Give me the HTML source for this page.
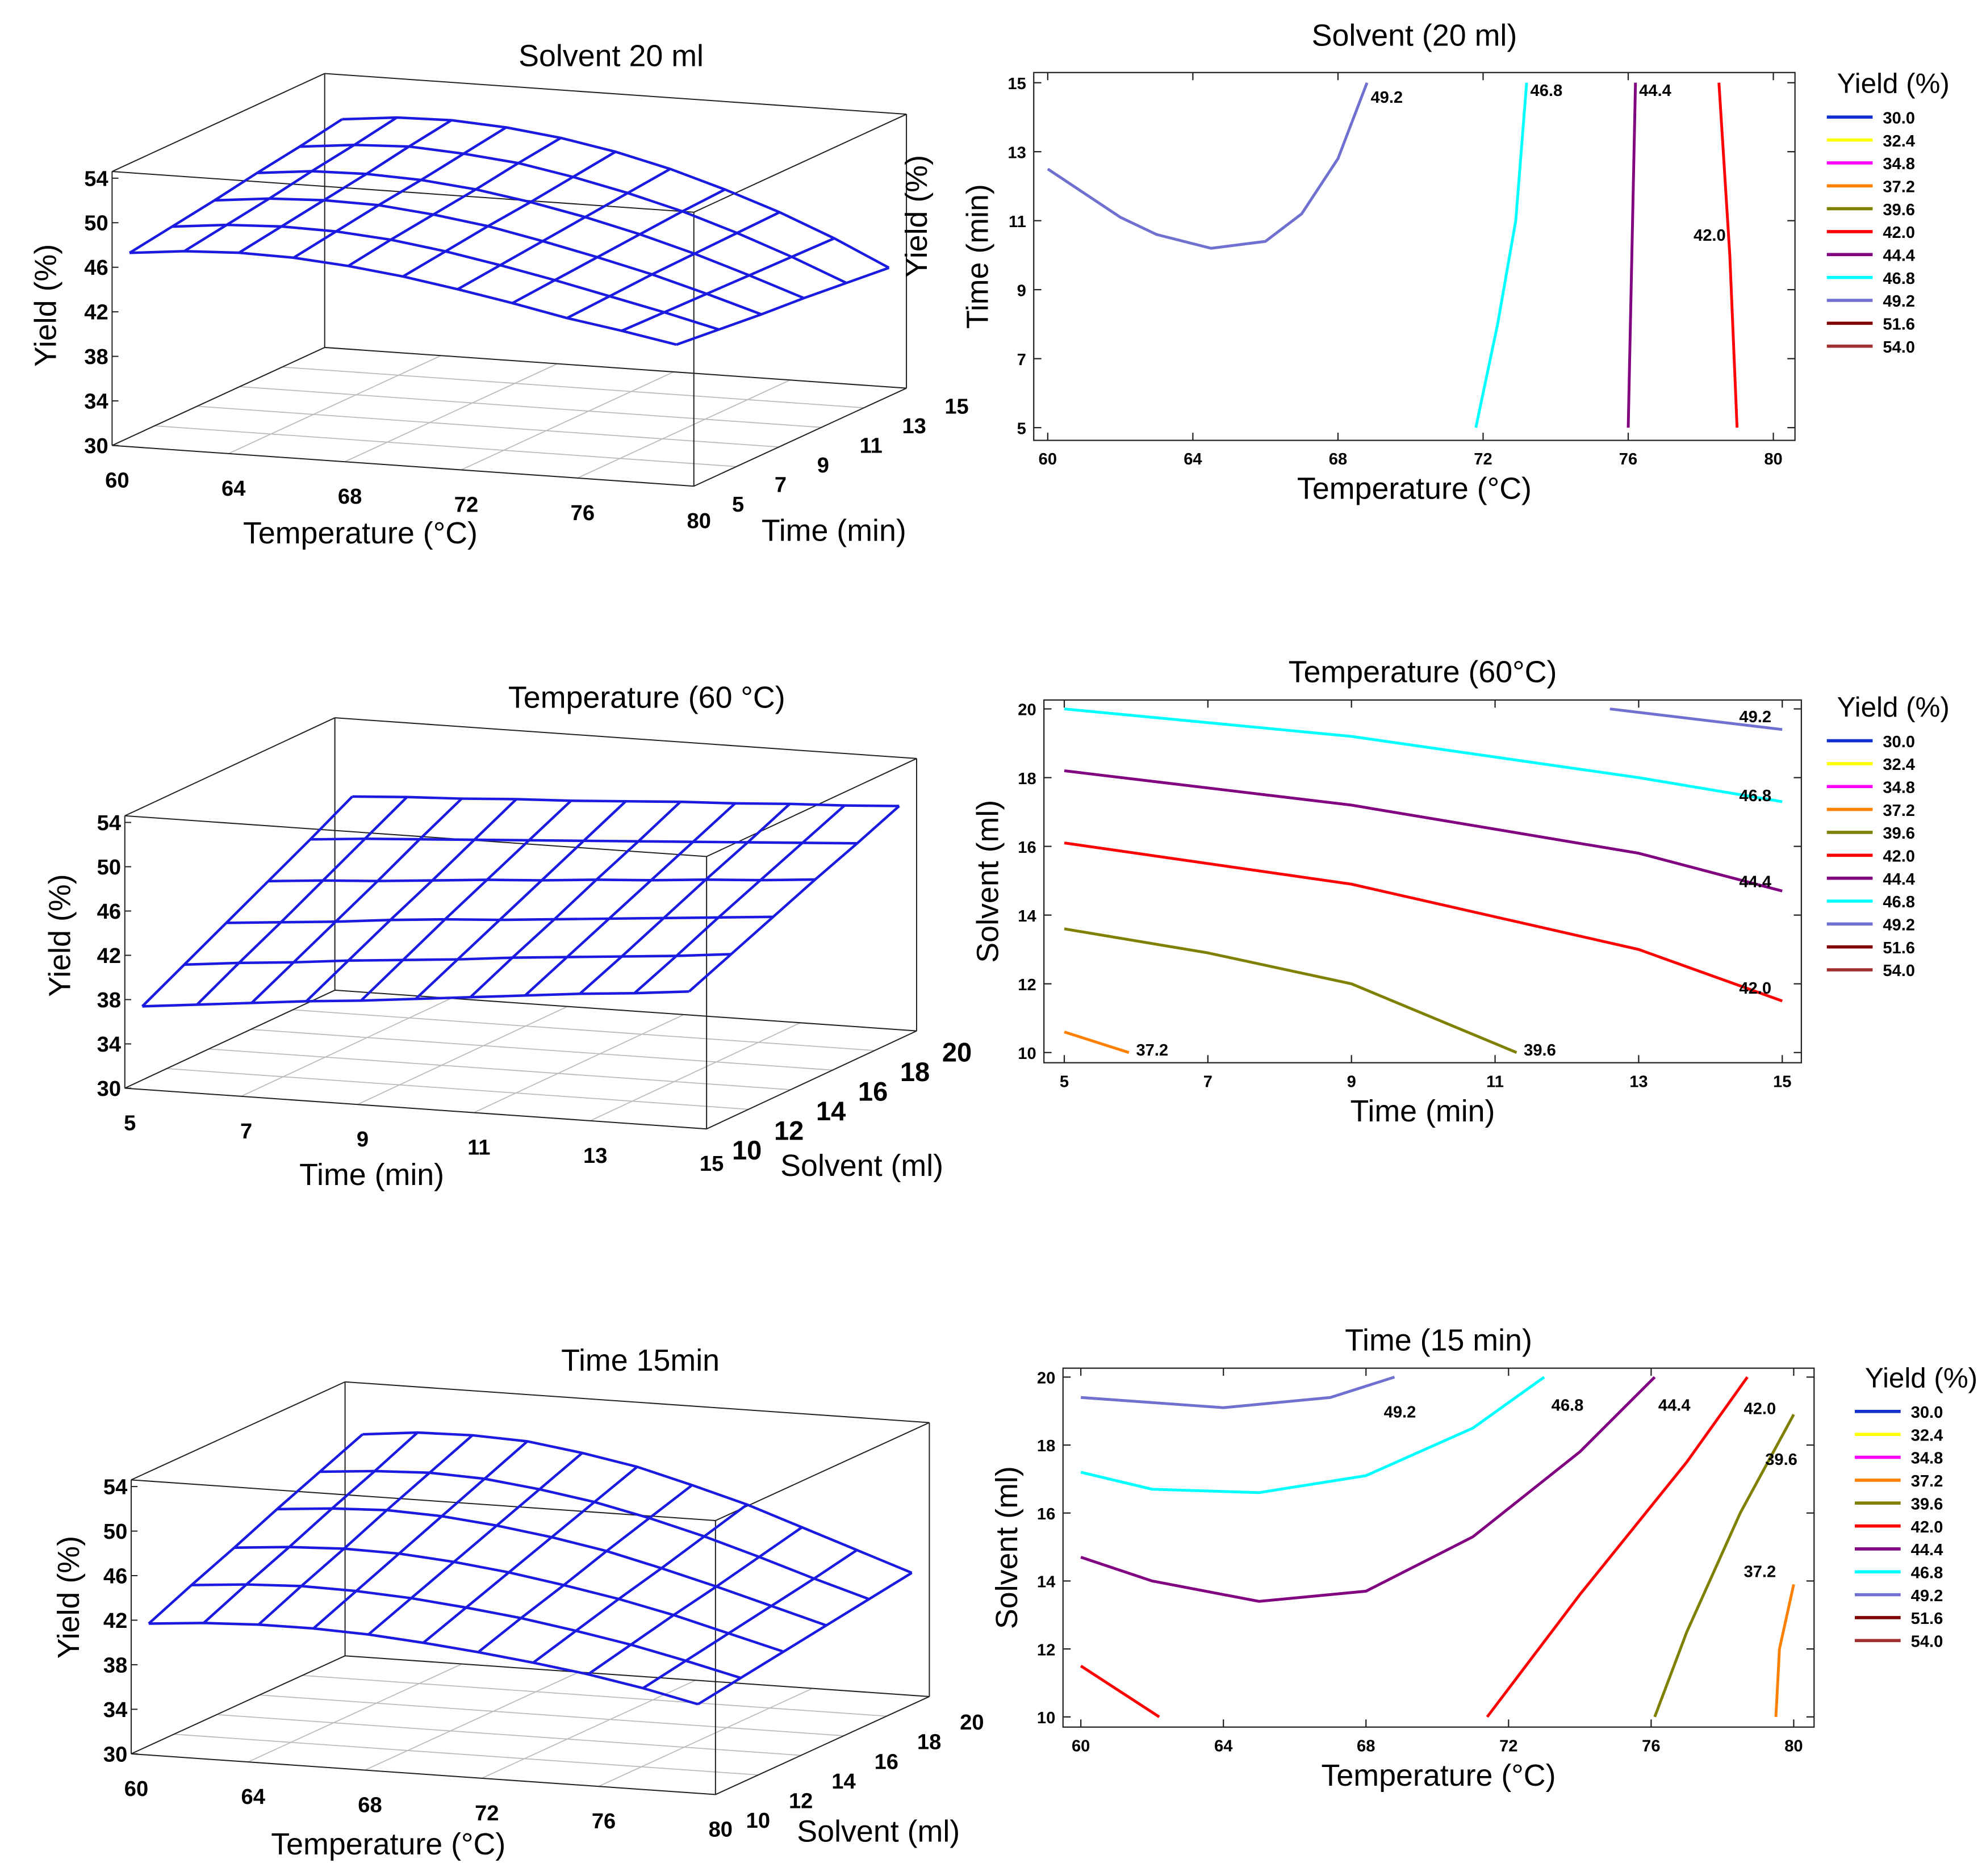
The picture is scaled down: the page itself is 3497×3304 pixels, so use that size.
<!DOCTYPE html>
<html><head><meta charset="utf-8"><style>
html,body{margin:0;padding:0;background:#fff}
svg{display:block;font-family:"Liberation Sans",Arial,sans-serif}
</style></head><body>
<svg id="root" width="3497" height="3304" viewBox="0 0 1560 1474" xmlns="http://www.w3.org/2000/svg"></svg>
<script>
// ---------- data ----------
const levels = [30.0,32.4,34.8,37.2,39.6,42.0,44.4,46.8,49.2,51.6,54.0];
const levelColors = ['#1030d0','#ffff00','#ff00ff','#ff8000','#808000','#ff0000','#800080','#00ffff','#7070d0','#800000','#a03030'];
const yieldTicks = [30,34,38,42,46,50,54];

const s1Temp = [60,62,64,66,68,70,72,74,76,78,80];
const s1Time = [5,7,9,11,13,15];
const s1Yield = [
 [47.4,47.9,48.1,48.0,47.6,47.0,46.2,45.3,44.3,43.5,42.6],
 [48.0,48.5,48.7,48.6,48.2,47.5,46.6,45.6,44.5,43.4,42.2],
 [48.6,49.1,49.3,49.2,48.7,48.0,47.0,45.9,44.7,43.3,41.8],
 [49.3,49.8,49.9,49.7,49.2,48.4,47.4,46.2,44.8,43.2,41.5],
 [49.9,50.4,50.6,50.3,49.8,48.9,47.8,46.5,44.9,43.1,41.1],
 [50.6,51.1,51.2,50.9,50.3,49.4,48.2,46.7,45.0,43.0,40.7]];
const s2Time = [5,6,7,8,9,10,11,12,13,14,15];
const s2Solv = [10,12,14,16,18,20];
const s2Yield = [
 [37.5,38.0,38.5,39.0,39.4,39.9,40.4,40.9,41.4,41.8,42.3],
 [39.5,40.0,40.4,40.9,41.3,41.7,42.2,42.6,43.0,43.4,43.9],
 [41.5,41.9,42.3,42.8,43.2,43.5,43.9,44.3,44.7,45.1,45.5],
 [43.5,43.9,44.2,44.6,45.0,45.3,45.7,46.0,46.4,46.7,47.1],
 [45.5,45.9,46.2,46.5,46.8,47.1,47.4,47.7,48.0,48.3,48.6],
 [47.6,47.9,48.1,48.4,48.6,48.9,49.2,49.4,49.7,49.9,50.2]];
const s3Temp = [60,62,64,66,68,70,72,74,76,78,80];
const s3Solv = [10,12,14,16,18,20];
const s3Yield = [
 [41.8,42.2,42.4,42.4,42.2,41.8,41.3,40.7,40.0,39.1,38.0],
 [43.5,43.9,44.1,44.0,43.7,43.2,42.6,41.8,40.9,39.8,38.6],
 [45.1,45.5,45.7,45.6,45.2,44.6,43.8,42.9,41.8,40.5,39.2],
 [46.8,47.2,47.4,47.2,46.7,46.0,45.1,43.9,42.6,41.2,39.8],
 [48.4,48.8,49.0,48.8,48.2,47.4,46.3,45.0,43.5,41.9,40.4],
 [50.0,50.5,50.6,50.4,49.7,48.8,47.5,46.1,44.4,42.7,41.0]];

const cA = [
 {lev:49.2, x:[60,61,62,63,64.5,66,67,68,68.8], y:[12.5,11.8,11.1,10.6,10.2,10.4,11.2,12.8,15], lab:[68.9,14.6]},
 {lev:46.8, x:[71.8,72.4,72.9,73.2], y:[5,8,11,15], lab:[73.3,14.8]},
 {lev:44.4, x:[76,76.1,76.2], y:[5,10,15], lab:[76.3,14.8]},
 {lev:42.0, x:[79,78.8,78.5], y:[5,10,15], lab:[77.8,10.6]}];
const cB = [
 {lev:49.2, x:[12.6,15], y:[20,19.4], lab:[14.4,19.8]},
 {lev:46.8, x:[5,9,13,15], y:[20,19.2,18,17.3], lab:[14.4,17.5]},
 {lev:44.4, x:[5,9,13,15], y:[18.2,17.2,15.8,14.7], lab:[14.4,15.0]},
 {lev:42.0, x:[5,9,13,15], y:[16.1,14.9,13.0,11.5], lab:[14.4,11.9]},
 {lev:39.6, x:[5,7,9,11.3], y:[13.6,12.9,12.0,10], lab:[11.4,10.1]},
 {lev:37.2, x:[5,5.9], y:[10.6,10], lab:[6.0,10.1]}];
const cC = [
 {lev:49.2, x:[60,64,67,68.8], y:[19.4,19.1,19.4,20], lab:[68.5,19.0]},
 {lev:46.8, x:[60,62,65,68,71,73], y:[17.2,16.7,16.6,17.1,18.5,20], lab:[73.2,19.2]},
 {lev:44.4, x:[60,62,65,68,71,74,76.1], y:[14.7,14.0,13.4,13.7,15.3,17.8,20], lab:[76.2,19.2]},
 {lev:42.0, x:[71.4,74,77,78.7], y:[10,13.6,17.5,20], lab:[78.6,19.1]},
 {lev:42.0, x:[60,62.2], y:[11.5,10], lab:null},
 {lev:39.6, x:[76.1,77,78.5,80], y:[10,12.5,16,18.9], lab:[79.2,17.6]},
 {lev:37.2, x:[79.5,79.6,80], y:[10,12,13.9], lab:[78.6,14.3]}];

// ---------- helpers ----------
const NS='http://www.w3.org/2000/svg';
const root=document.getElementById('root');
function mk(tag,attrs,parent,text){const e=document.createElementNS(NS,tag);for(const k in attrs)e.setAttribute(k,attrs[k]);if(text!==undefined)e.textContent=text;(parent||root).appendChild(e);return e;}
function txt(x,y,s,size,parent,extra){return mk('text',Object.assign({x:x,y:y,'font-size':size,'text-anchor':'middle',fill:'#000'},extra||{}),parent,s);}

function surface(cfg){
  const g=mk('g',{});
  
  
  const [ox,oy]=cfg.O, ys=cfg.ys;
  function P(u,v,y){return [ox+u*cfg.vF[0]+v*cfg.vD[0], oy+u*cfg.vF[1]+v*cfg.vD[1]-(y-30)*ys];}
  const ymax=54.6;
  const edges=[[0,0,30,1,0,30],[1,0,30,1,1,30],[1,1,30,0,1,30],[0,1,30,0,0,30],
    [0,0,ymax,1,0,ymax],[1,0,ymax,1,1,ymax],[1,1,ymax,0,1,ymax],[0,1,ymax,0,0,ymax],
    [0,0,30,0,0,ymax],[1,0,30,1,0,ymax],[1,1,30,1,1,ymax],[0,1,30,0,1,ymax]];
  for(let i=0;i<=5;i++){
    const a=P(i/5,0,30),b=P(i/5,1,30);
    const l=mk('line',{x1:a[0],y1:a[1],x2:b[0],y2:b[1],stroke:'#bbb','stroke-width':0.8},g);
    
    
    const a2=P(0,i/5,30),b2=P(1,i/5,30);
    const l2=mk('line',{x1:a2[0],y1:a2[1],x2:b2[0],y2:b2[1],stroke:'#bbb','stroke-width':0.8},g);
    
    
  }
  edges.forEach(e=>{const a=P(e[0],e[1],e[2]),b=P(e[3],e[4],e[5]);
    const l=mk('line',{x1:a[0],y1:a[1],x2:b[0],y2:b[1],stroke:'#222','stroke-width':0.9},g);
    
    });
  yieldTicks.forEach(t=>{const p=P(0,0,t);
    mk('line',{x1:p[0],y1:p[1],x2:p[0]+5,y2:p[1],stroke:'#222','stroke-width':0.9},g);
    const tl=txt(p[0]-3,p[1]+6,String(t),17,g,{'text-anchor':'end','font-weight':'bold'});
    
    });
  cfg.fTicks.forEach(t=>{const u=(t-cfg.fRange[0])/(cfg.fRange[1]-cfg.fRange[0]);const p=P(u,0,30);
    const tl=txt(p[0]+4,p[1]+33,String(t),17,g,{'font-weight':'bold'});
    
    });
  cfg.dTicks.forEach(t=>{const v=(t-cfg.dRange[0])/(cfg.dRange[1]-cfg.dRange[0]);const p=P(1,v,30);
    const tl=txt(p[0]+cfg.dOff[0],p[1]+cfg.dOff[1],String(t),cfg.dSize||17,g,{'font-weight':'bold','text-anchor':'start'});
    
    });
  const cols=cfg.cols, rows=cfg.rows, Z=cfg.Z;
  const mesh=mk('g',{fill:'none',stroke:'#1a1ae0','stroke-width':2},g);
  
  
  const U=x=>cfg.inset+(1-2*cfg.inset)*(x-cfg.fRange[0])/(cfg.fRange[1]-cfg.fRange[0]);
  const V=x=>(x-cfg.dRange[0])/(cfg.dRange[1]-cfg.dRange[0]);
  for(let r=0;r<rows.length;r++){
    const pts=cols.map((cv,j)=>P(U(cv),V(rows[r]),Z[r][j]).join(',')).join(' ');
    const pl=mk('polyline',{points:pts},mesh);
    
    
  }
  for(let j=0;j<cols.length;j++){
    const pts=rows.map((rv,r)=>P(U(cols[j]),V(rv),Z[r][j]).join(',')).join(' ');
    const pl=mk('polyline',{points:pts},mesh);
    
    
  }
}

surface({name:'surface-plot-solvent-20',O:[88,350],vF:[457,32],vD:[167,-77],ys:8.75,inset:0.03,
  fRange:[60,80],dRange:[5,15],fTicks:[60,64,68,72,76,80],dTicks:[5,7,9,11,13,15],dOff:[30,20],
  cols:s1Temp,rows:s1Time,Z:s1Yield});
surface({name:'surface-plot-temperature-60',O:[98,855],vF:[457,32],vD:[165,-77],ys:8.7,inset:0.03,
  fRange:[5,15],dRange:[10,20],fTicks:[5,7,9,11,13,15],dTicks:[10,12,14,16,18,20],dOff:[20,24],dSize:21,
  cols:s2Time,rows:s2Solv,Z:s2Yield});
surface({name:'surface-plot-time-15',O:[103,1378],vF:[459,32],vD:[168,-77],ys:8.75,inset:0.03,
  fRange:[60,80],dRange:[10,20],fTicks:[60,64,68,72,76,80],dTicks:[10,12,14,16,18,20],dOff:[24,26],
  cols:s3Temp,rows:s3Solv,Z:s3Yield});

[[480,52,'Solvent 20 ml','title'],[508,556,'Temperature (60 °C)','title'],[503,1077,'Time 15min','title'],
 [283,427,'Temperature (°C)','x-axis-title'],[655,425,'Time (min)','depth-axis-title'],
 [292,931,'Time (min)','x-axis-title'],[677,924,'Solvent (ml)','depth-axis-title'],
 [305,1457,'Temperature (°C)','x-axis-title'],[690,1447,'Solvent (ml)','depth-axis-title']].forEach(a=>{
  const e=txt(a[0],a[1],a[2],24);
  
  });
[[44,240],[55,735],[62,1255],[728,170]].forEach(a=>{
  const e=txt(0,0,'Yield (%)',24,root,{transform:`translate(${a[0]},${a[1]}) rotate(-90)`});
  
  });

function contour(cfg){
  const g=mk('g',{});
  
  
  const [x0,y0,x1,y1]=cfg.frame;
  const fr=mk('rect',{x:x0,y:y0,width:x1-x0,height:y1-y0,fill:'#fff',stroke:'#222','stroke-width':1},g);
  
  
  const X=v=>cfg.px[0]+(v-cfg.xr[0])/(cfg.xr[1]-cfg.xr[0])*(cfg.px[1]-cfg.px[0]);
  const Y=v=>cfg.py[0]+(v-cfg.yr[0])/(cfg.yr[1]-cfg.yr[0])*(cfg.py[1]-cfg.py[0]);
  cfg.xt.forEach(t=>{const x=X(t);
    for(let k=0;k<2;k++){const yy=k?y0:y1;mk('line',{x1:x,y1:yy,x2:x,y2:yy+(k?6:-6),stroke:'#222'},g);}
    const e=txt(x,y1+19,String(t),13,g,{'font-weight':'bold'});
    
    });
  cfg.yt.forEach(t=>{const y=Y(t);
    mk('line',{x1:x0,y1:y,x2:x0+6,y2:y,stroke:'#222'},g);mk('line',{x1:x1,y1:y,x2:x1-6,y2:y,stroke:'#222'},g);
    const e=txt(x0-6,y+5,String(t),13,g,{'font-weight':'bold','text-anchor':'end'});
    
    });
  cfg.lines.forEach(c=>{
    const col=levelColors[levels.indexOf(c.lev)];
    const pts=c.x.map((v,i)=>X(v)+','+Y(c.y[i])).join(' ');
    const pl=mk('polyline',{points:pts,fill:'none',stroke:col,'stroke-width':2.2,'stroke-linejoin':'round'},g);
    
    
    if(c.lab){const e=txt(X(c.lab[0]),Y(c.lab[1])+5,c.lev.toFixed(1),13,g,{'font-weight':'bold','text-anchor':'start'});
      
      }
  });
  const t=txt((x0+x1)/2,cfg.title[1],cfg.title[0],24,g);
  
  
  const xa=txt((x0+x1)/2,y1+46,cfg.xl,24,g);
  
  
  const ya=txt(0,0,cfg.yl,24,g,{transform:`translate(${x0-36},${(y0+y1)/2}) rotate(-90)`});
  
  
  const lg=mk('g',{},g);
  
  
  const [lx,ly]=cfg.leg;
  const lt=txt(lx,ly,'Yield (%)',22,lg,{'text-anchor':'start'});
  
  
  levels.forEach((lv,i)=>{const yy=ly+19+i*18;
    const ln=mk('line',{x1:lx-8,y1:yy,x2:lx+28,y2:yy,stroke:levelColors[i],'stroke-width':2.5},lg);
    
    
    const e=txt(lx+36,yy+5,lv.toFixed(1),13,lg,{'font-weight':'bold','text-anchor':'start'});
    
    });
}
contour({name:'contour-plot-solvent-20',frame:[812,57,1410,346],px:[823,1393],py:[336,65],xr:[60,80],yr:[5,15],
  xt:[60,64,68,72,76,80],yt:[5,7,9,11,13,15],lines:cA,title:['Solvent (20 ml)',36],xl:'Temperature (°C)',yl:'Time (min)',leg:[1443,73]});
contour({name:'contour-plot-temperature-60',frame:[820,550,1415,835],px:[836,1400],py:[827,557],xr:[5,15],yr:[10,20],
  xt:[5,7,9,11,13,15],yt:[10,12,14,16,18,20],lines:cB,title:['Temperature (60°C)',536],xl:'Time (min)',yl:'Solvent (ml)',leg:[1443,563]});
contour({name:'contour-plot-time-15',frame:[835,1075,1425,1357],px:[849,1409],py:[1349,1082],xr:[60,80],yr:[10,20],
  xt:[60,64,68,72,76,80],yt:[10,12,14,16,18,20],lines:cC,title:['Time (15 min)',1061],xl:'Temperature (°C)',yl:'Solvent (ml)',leg:[1465,1090]});
</script>
</body></html>
